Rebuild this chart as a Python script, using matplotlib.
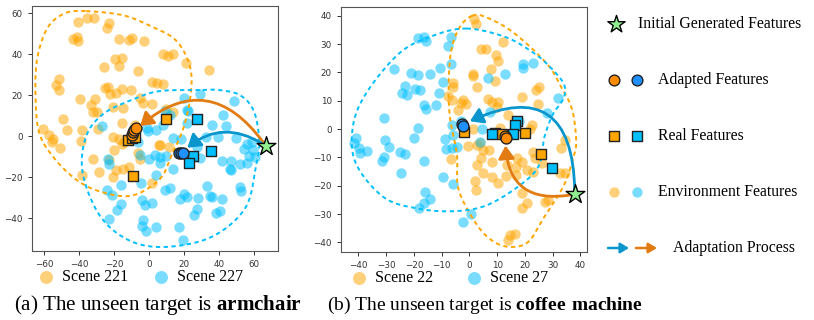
import numpy as np
import matplotlib
matplotlib.use("Agg")
import matplotlib.pyplot as plt
from matplotlib.patches import FancyArrowPatch

plt.rcParams['font.family'] = 'DejaVu Sans'
plt.rcParams['mathtext.fontset'] = 'custom'
plt.rcParams['mathtext.rm'] = 'Liberation Serif'
plt.rcParams['mathtext.bf'] = 'Liberation Serif:bold'
SERIF = 'Liberation Serif'

# colours
ENV_OR, ENV_BL = '#FFA500', '#00BFFF'
ADA_OR, ADA_BL = '#FF8C00', '#1E90FF'
ARR_OR, ARR_BL = '#E27C12', '#0A96CC'
STAR_C = '#90EE90'

# ---------------- panel (a): Scene 221 / Scene 227 ----------------
env_or_a = np.array([
    (-40.9, 55.8), (-35.8, 57.7), (-31.4, 57.7), (-22.9, 55.4), (-24.3, 52.8), (-43.4, 47.3),
    (-41.5, 48.4), (-40.5, 46.3), (-17.1, 47.2), (-11.6, 46.7), (-9.9, 47.7), (-3.2, 46.3),
    (-19.8, 37.6), (-15.6, 38.2), (-17.1, 34.3), (-25.9, 33.8), (-6.3, 31.9), (1.9, 26.5),
    (-51.4, 27.8), (-53.3, 24.9), (-51.6, 22.4), (-25.3, 23.3), (-23.4, 24.0), (-22.5, 20.8),
    (-19.2, 21.1), (-15.4, 22.8), (-10.1, 22.4), (-39.6, 18.0), (-30.9, 18.0), (-33.3, 15.1),
    (-32.0, 11.6), (-29.9, 11.6), (-20.9, 14.3), (-14.9, 13.8), (-49.1, 8.6), (-5.3, 18.4),
    (-3.4, 16.0), (-60.6, 3.4), (-47.2, 2.9), (-38.6, 2.9), (-29.1, 3.4), (8.0, 40.3),
    (13.7, 40.3), (10.9, 39.0), (20.8, 35.5), (34.1, 32.2), (4.6, 25.7), (7.7, 25.4),
    (1.7, 15.5), (-8.2, 5.7), (-20.6, -0.5), (-15.8, -3.6), (5.7, -4.4), (9.9, 13.5),
    (13.7, 11.9), (-57.1, 0.8), (-55.2, -1.5), (-55.8, -2.8), (-51.0, -5.7), (-39.2, -2.3),
    (-32.0, -10.9), (-23.0, -11.4), (-28.6, -17.4), (-38.6, -19.0), (-17.1, -1.5), (-14.3, -2.8),
    (-20.2, -6.8), (-20.6, -19.9), (-19.0, -16.6), (-14.9, -15.8), (-11.6, -15.0), (-5.5, -11.0),
    (1.9, -22.6), (-6.3, -8.4), (11.4, -5.2), (-15.8, 6.2), (6.1, -4.4),
])
env_bl_a = np.array([
    (29.0, 20.8), (20.2, 18.4), (48.4, 17.2), (42.3, 10.2), (22.3, 12.2), (21.4, 13.0),
    (11.8, 10.2), (9.0, 12.2), (35.7, 5.4), (43.8, 4.9), (21.9, 6.2), (8.0, 5.4),
    (-27.2, 5.0), (-1.5, 3.8), (4.2, 2.9), (13.7, -0.8), (18.5, -1.6), (32.8, -0.3),
    (39.4, -0.3), (49.9, -1.1), (55.7, -3.6), (58.9, -2.8), (-6.3, -2.8), (27.1, -5.2),
    (6.1, -10.1), (3.3, -9.3), (9.5, -9.8), (54.3, -6.3), (57.1, -9.6), (59.4, -6.8),
    (41.4, -12.2), (47.1, -12.2), (51.8, -13.8), (46.1, -15.8), (29.0, -10.6), (33.1, -24.4),
    (34.7, -29.1), (41.4, -30.7), (51.8, -24.7), (52.8, -26.7), (20.0, -28.0), (21.4, -29.6),
    (17.5, -30.7), (28.0, -30.1), (25.7, -38.2), (27.1, -35.3), (38.5, -37.7), (40.4, -36.6),
    (1.4, -32.8), (4.2, -44.2), (17.1, -44.2), (19.4, -50.7), (-5.3, -9.3), (0.0, -10.9),
    (-22.9, -13.8), (-16.3, -23.9), (-24.0, -26.3), (-21.5, -28.8), (-4.6, -22.6), (-16.3, -33.3),
    (-18.3, -36.1), (-22.9, -40.5), (-2.5, -33.7), (-3.4, -41.0), (-4.3, -43.9), (-1.9, -46.3),
    (-0.6, 2.4), (11.8, -25.5), (60.4, -10.1), (47.1, -16.6), (55.7, -13.3), (-23.4, -10.9),
    (4.2, -19.0), (9.0, -26.3), (6.1, -13.3), (13.7, -15.8), (-4.3, -31.2), (35.7, -29.6),
])
real_or_a = np.array([(-12.0, -1.8), (-10.0, -0.8), (-8.2, -0.3), (9.9, 8.6), (-9.1, -19.4)])
real_bl_a = np.array([(27.2, 8.3), (24.8, -9.6), (22.9, -13.0), (35.3, -7.2)])
adapt_or_a = np.array([(-10.0, 0.6), (-9.3, 1.8), (-8.4, 2.9), (-7.4, 3.9)])
adapt_bl_a = np.array([(17.1, -8.4), (18.3, -8.3), (19.4, -8.4)])
star_a = (66.7, -4.7)
# region outlines (anchor points)
region_or_a = np.array([(-36, 61), (-15, 59), (0, 54), (15, 47), (23, 35), (24, 22), (20, 5),
                        (13, -9), (6, -21), (-10, -29), (-28, -27), (-42, -21), (-55, -10),
                        (-63, 2), (-65, 20), (-64, 38), (-58, 53), (-48, 60)])
region_bl_a = np.array([(29, 22.5), (6, 22), (-9, 18), (-26, 11), (-36, 0), (-38, -18),
                        (-28, -39), (-11, -51), (10, -54), (36, -49), (55, -35), (61, -15),
                        (63, -3), (60, 12), (52, 20), (40, 22.5)])

# ---------------- panel (b): Scene 22 / Scene 27 ----------------
env_or_b = np.array([
    (-5.8, 14.9), (-7.6, 11.7), (-3.2, 9.2), (-1.2, 9.0), (-4.0, 6.7), (1.7, 38.7),
    (2.4, 37.2), (4.1, 28.4), (6.0, 28.4), (12.2, 30.7), (9.6, 26.3), (10.4, 23.9),
    (7.7, 21.1), (1.2, 19.6), (1.2, 18.8), (9.2, 16.9), (2.9, 14.9), (25.2, 14.9),
    (24.0, 13.7), (18.8, 11.4), (24.8, 8.8), (8.1, 9.6), (10.4, 9.6), (9.9, 7.9),
    (14.0, 4.9), (11.0, 0.5), (22.4, 1.4), (-0.4, -5.9), (2.7, -5.6), (5.0, -7.4),
    (7.2, -7.4), (-6.6, -10.6), (2.7, -12.7), (4.1, -10.3), (8.1, -11.5), (4.8, -15.6),
    (2.1, -18.5), (2.4, -21.5), (8.1, -16.8), (10.4, -19.1), (13.2, -16.4), (13.4, -12.7),
    (16.8, -13.3), (17.3, -10.3), (16.8, -16.2), (18.8, -11.5), (20.6, -14.4), (18.8, -22.6),
    (20.6, -26.2), (18.8, -27.9), (23.0, -8.0), (23.6, -10.1), (22.8, -15.0), (26.0, -12.1),
    (27.2, -25.6), (28.4, -25.0), (33.2, -6.8), (34.4, -3.9), (32.6, -15.6), (34.4, -15.4),
    (14.6, -37.3), (16.4, -37.1), (14.0, -39.1), (6.8, 10.5), (21.8, 0.2), (1.4, 0.2),
    (3.8, -4.8), (-6.3, 10.2), (-2.2, 10.2), (-5.8, 16.1),
])
env_bl_b = np.array([
    (-18.7, 32.3), (-16.5, 32.5), (-15.8, 31.0), (-6.7, 32.5), (-7.6, 29.3), (-27.3, 21.1),
    (-21.0, 19.8), (-18.7, 19.0), (-14.1, 19.6), (-10.5, 21.4), (-6.6, 23.1), (-9.4, 16.7),
    (-23.1, 15.1), (-19.5, 14.3), (-17.7, 13.7), (-24.3, 12.6), (-22.5, 12.0), (-10.9, 12.6),
    (-16.5, 8.5), (-15.6, 7.0), (-12.1, 8.5), (-30.9, 3.8), (-18.7, 0.5), (-6.3, 1.4),
    (-30.3, -3.9), (-29.1, -6.2), (-20.1, -3.1), (-8.7, -3.6), (-5.8, -2.1), (-4.3, -6.2),
    (-8.5, -7.0), (-41.7, -5.0), (-41.0, -3.0), (-39.9, -6.8), (-36.9, -7.7), (-39.3, -8.6),
    (-25.2, -8.0), (-23.4, -8.9), (6.8, 18.2), (12.8, 19.4), (7.4, 6.1), (-3.0, 2.9),
    (17.9, 2.9), (27.8, 5.7), (31.8, 10.9), (19.4, 23.1), (22.8, 23.5), (19.4, 21.4),
    (4.5, 0.0), (-30.9, -9.8), (-31.5, -11.3), (-16.5, -11.3), (-24.7, -15.6), (-6.3, -6.6),
    (-9.4, -16.8), (-5.8, -19.5), (-15.9, -22.1), (-14.1, -24.6), (-16.3, -26.2), (-18.1, -27.9),
    (0.5, -30.0), (-2.2, -32.9), (3.8, -4.5),
])
real_or_b = np.array([(-1.8, -1.2), (9.3, -1.3), (11.6, -1.7), (20.0, -1.4), (25.7, -8.9)])
real_bl_b = np.array([(17.3, 2.8), (16.4, 1.3), (15.8, -1.6), (8.3, -1.8), (29.6, -13.7)])
adapt_or_b = np.array([(12.7, -2.6), (13.1, -3.2)])
adapt_bl_b = np.array([(-2.7, 1.9), (-2.4, 1.1)])
star_b = (38.0, -23.0)
region_or_b = np.array([(1, 40), (6, 39.5), (16, 34), (28, 23), (33, 15), (37, 7), (38.5, -4),
                        (37.5, -10), (34, -20), (27, -31), (21, -40), (13.5, -41.5), (7, -38.5),
                        (1.5, -32), (-4, -21), (-4.5, -9), (-7, 4), (-7.5, 16), (-6.5, 28),
                        (-3.5, 36)])
region_bl_b = np.array([(-1, 35.5), (-13, 33), (-25, 27), (-37, 13), (-42, 1), (-41, -12),
                        (-31, -24), (-19, -28), (-6, -29), (6, -27), (18, -20), (25, -13),
                        (27, -3), (30, 5), (34, 11), (34, 16), (29, 22), (23, 27), (13, 32.5)])

scenes_a = ['Scene 221', 'Scene 227']
scenes_b = ['Scene 22', 'Scene 27']
caption_a = r'(a) The unseen target is $\mathbf{armchair}$'
caption_b = r'(b) The unseen target is $\mathbf{coffee\ machine}$'
legend_labels = ['Initial Generated Features', 'Adapted Features', 'Real Features',
                 'Environment Features', 'Adaptation Process']

ENV_S, ENV_A = 56, 0.52


def smooth_closed(pts, n=30):
    # periodic Catmull-Rom through the anchor points
    m = len(pts)
    t = np.linspace(0, 1, n, endpoint=False)[:, None]
    segs = []
    for i in range(m):
        p0, p1, p2, p3 = pts[i - 1], pts[i], pts[(i + 1) % m], pts[(i + 2) % m]
        segs.append(0.5 * (2 * p1 + (-p0 + p2) * t + (2 * p0 - 5 * p1 + 4 * p2 - p3) * t ** 2
                           + (-p0 + 3 * p1 - 3 * p2 + p3) * t ** 3))
    c = np.vstack(segs + [segs[0][:1]])
    return c[:, 0], c[:, 1]


def draw_panel(ax, env_or, env_bl, reg_or, reg_bl, real_or, real_bl, ad_or, ad_bl, star,
               rad_or, rad_bl, labels, leg_x, colsp):
    h_or = ax.scatter(env_or[:, 0], env_or[:, 1], s=ENV_S, color=ENV_OR, alpha=ENV_A, lw=0,
                      zorder=2, label=labels[0])
    h_bl = ax.scatter(env_bl[:, 0], env_bl[:, 1], s=ENV_S, color=ENV_BL, alpha=ENV_A, lw=0,
                      zorder=2, label=labels[1])
    for reg, col in ((reg_or, ENV_OR), (reg_bl, ENV_BL)):
        x, y = smooth_closed(reg.astype(float))
        ax.plot(x, y, ls=(0, (2.2, 1.8)), lw=1.4, color=col, zorder=3)
    ax.scatter(real_or[:, 0], real_or[:, 1], marker='s', s=50, color=ENV_OR, ec='#222222',
               lw=1.0, zorder=5)
    ax.scatter(real_bl[:, 0], real_bl[:, 1], marker='s', s=50, color=ENV_BL, ec='#222222',
               lw=1.0, zorder=5)
    ax.scatter(ad_or[:, 0], ad_or[:, 1], s=62, color=ADA_OR, ec='#222222', lw=1.0, zorder=6)
    ax.scatter(ad_bl[:, 0], ad_bl[:, 1], s=62, color=ADA_BL, ec='#222222', lw=1.0, zorder=6)
    for ad, rad, col in ((ad_or, rad_or, ARR_OR), (ad_bl, rad_bl, ARR_BL)):
        end = ad.mean(axis=0)
        arr = FancyArrowPatch(star, tuple(end), connectionstyle=f'arc3,rad={rad}',
                              arrowstyle='-|>,head_length=0.55,head_width=0.35',
                              mutation_scale=14, lw=2.0, color=col, shrinkA=3, shrinkB=6,
                              zorder=7)
        ax.add_patch(arr)
    ax.scatter([star[0]], [star[1]], marker='*', s=200, color=STAR_C, ec='black', lw=1.0, zorder=8)
    for sp in ax.spines.values():
        sp.set_color('#555555')
    ax.tick_params(labelsize=6.3, colors='#333333', length=3, width=0.7)
    ax.legend(handles=[h_or, h_bl], loc='upper center', bbox_to_anchor=(leg_x, -0.035),
              ncol=2, frameon=False, prop={'family': SERIF, 'size': 11.5},
              handletextpad=0.05, columnspacing=colsp, markerscale=1.25, borderpad=0.1)


fig = plt.figure(figsize=(8.14, 3.2), dpi=100)
ax1 = fig.add_axes([32 / 814, 69 / 320, 246 / 814, 245 / 320])
ax2 = fig.add_axes([341 / 814, 68 / 320, 246 / 814, 245 / 320])

draw_panel(ax1, env_or_a, env_bl_a, region_or_a, region_bl_a, real_or_a, real_bl_a,
           adapt_or_a, adapt_bl_a, star_a, 0.57, 0.40, scenes_a, 0.425, 1.0)
ax1.set_xlim(-67, 73.7)
ax1.set_ylim(-56, 63.5)
ax1.set_xticks(np.arange(-60, 61, 20))
ax1.set_yticks(np.arange(-40, 61, 20))

draw_panel(ax2, env_or_b, env_bl_b, region_or_b, region_bl_b, real_or_b, real_bl_b,
           adapt_or_b, adapt_bl_b, star_b, -0.6, 0.8, scenes_b, 0.425, 1.5)
ax2.set_xlim(-46.3, 42.4)
ax2.set_ylim(-43.4, 43.1)
ax2.set_xticks(np.arange(-40, 41, 10))
ax2.set_yticks(np.arange(-40, 41, 10))

fig.text(158 / 814, 0.03, caption_a, family=SERIF, fontsize=15.1, ha='center', va='baseline')
fig.text(485 / 814, 0.03, caption_b, family=SERIF, fontsize=14.0, ha='center', va='baseline')

# right-hand key, laid out in pixel coordinates of the figure
key = fig.add_axes([0, 0, 1, 1], facecolor='none')
key.set_xlim(0, 814)
key.set_ylim(320, 0)
key.axis('off')
rows = [24, 80, 136, 192, 248]
key.scatter([616], [rows[0]], marker='*', s=170, color=STAR_C, ec='black', lw=1.0)
key.scatter([614], [rows[1]], s=60, color=ADA_OR, ec='#222222', lw=1.0)
key.scatter([637], [rows[1]], s=60, color=ADA_BL, ec='#222222', lw=1.0)
key.scatter([614], [rows[2]], marker='s', s=50, color=ENV_OR, ec='#222222', lw=1.0)
key.scatter([637], [rows[2]], marker='s', s=50, color=ENV_BL, ec='#222222', lw=1.0)
key.scatter([614], [rows[3]], s=ENV_S, color=ENV_OR, alpha=ENV_A, lw=0)
key.scatter([637], [rows[3]], s=ENV_S, color=ENV_BL, alpha=ENV_A, lw=0)
for x0, x1, col in ((608, 629, ARR_BL), (636, 657, ARR_OR)):
    key.add_patch(FancyArrowPatch((x0, rows[4]), (x1, rows[4]),
                                  arrowstyle='-|>,head_length=0.5,head_width=0.3',
                                  mutation_scale=10, lw=1.8, color=col, shrinkA=0, shrinkB=0))
text_x = [638, 658, 658, 658, 673]
for tx, ty, lab in zip(text_x, rows, legend_labels):
    key.text(tx, ty, lab, family=SERIF, fontsize=11.3, ha='left', va='center')

fig.savefig('out.png', dpi=100)
